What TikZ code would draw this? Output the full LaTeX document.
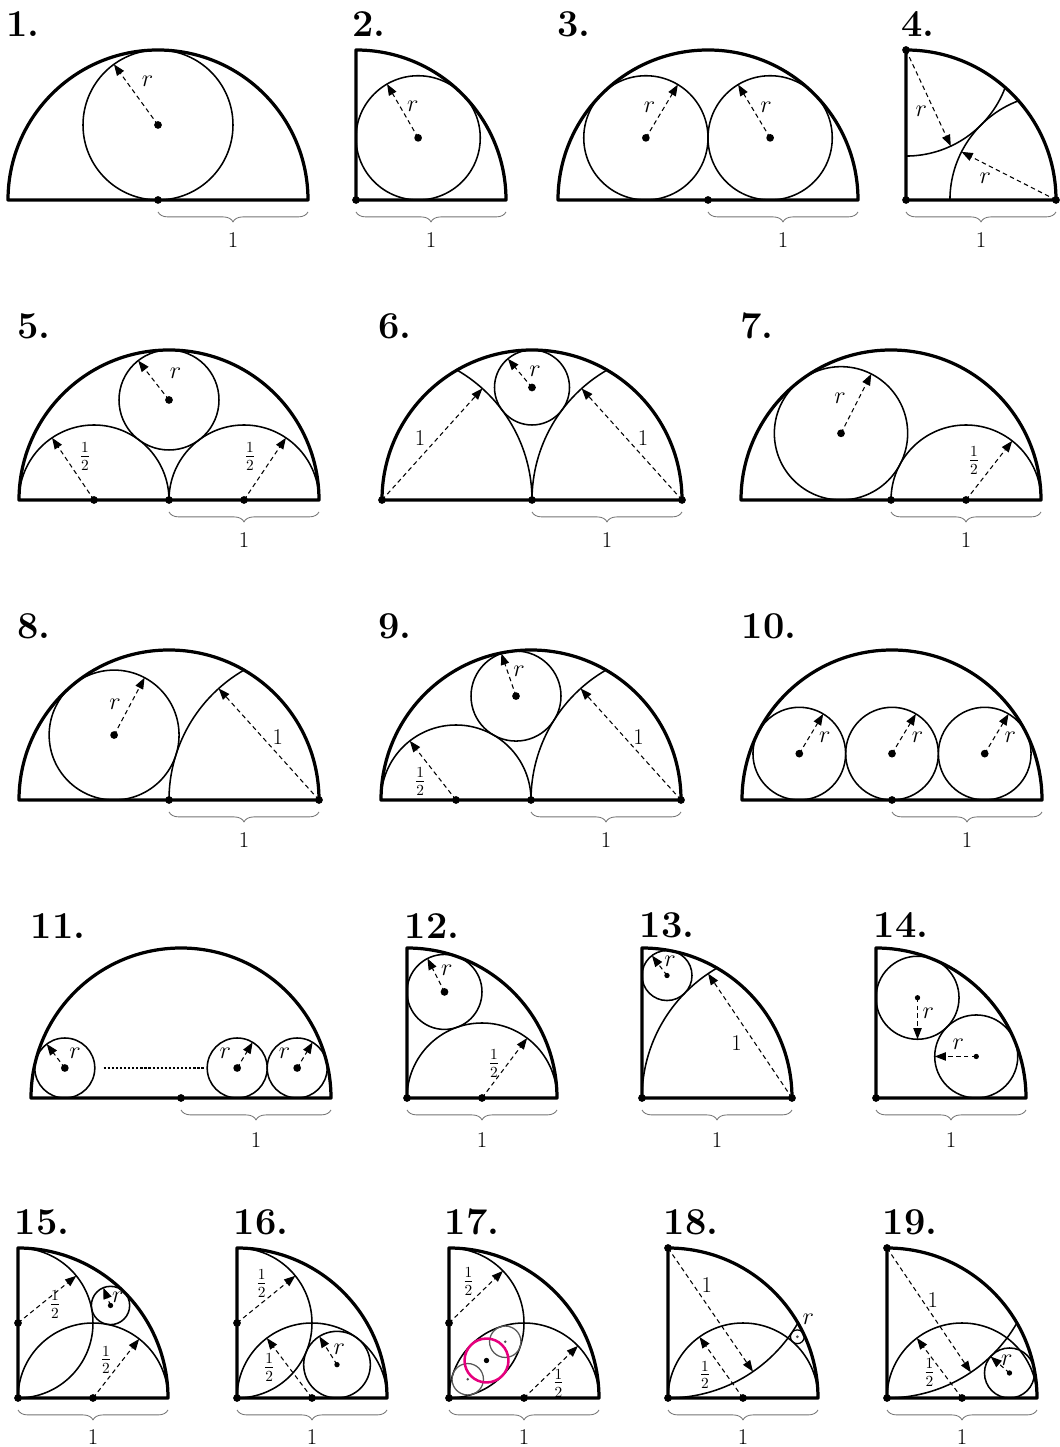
\documentclass[tikz,border=0pt]{standalone}
\usetikzlibrary{arrows.meta,decorations.pathreplacing}
\definecolor{mag}{RGB}{230,0,126}
\tikzset{
 thickline/.style={line width=2.3pt, line join=round},
 thinline/.style={line width=1.1pt},
 darrow/.style={line width=0.75pt, dash pattern=on 3.2pt off 2.4pt, -{Triangle[length=8pt,width=6pt]}},
 dotnode/.style={circle, fill=black, draw=none, inner sep=0pt, minimum size=5.5pt},
 sdot/.style={circle, fill=black, draw=none, inner sep=0pt, minimum size=3.8pt},
 tdot/.style={circle, fill=black!70, draw=none, inner sep=0pt, minimum size=2pt},
 lbl/.style={font=\fontsize{16}{18}\selectfont, inner sep=0pt},
 num/.style={font=\fontsize{27}{30}\selectfont\bfseries, inner sep=0pt},
 brc/.style={decorate, decoration={brace, amplitude=7pt}, draw=black!55, line width=0.6pt},
 panel/.style 2 args={shift={(#1,1447-#2)}, scale=150},
}
\begin{document}
\begin{tikzpicture}[x=0.025cm,y=0.025cm]
\useasboundingbox (0,0) rectangle (1059,1447);
% panel numbers
\node[num] (n1) at (23,1447-24) {1.};
\node[num] (n2) at (369,1447-24) {2.};
\node[num] (n3) at (574,1447-24) {3.};
\node[num] (n4) at (918,1447-24) {4.};
\node[num] (n5) at (34,1447-326) {5.};
\node[num] (n6) at (395,1447-326) {6.};
\node[num] (n7) at (757,1447-326) {7.};
\node[num] (n8) at (34,1447-626) {8.};
\node[num] (n9) at (395,1447-626) {9.};
\node[num] (n10) at (769,1447-626) {10.};
\node[num] (n11) at (58,1447-926) {11.};
\node[num] (n12) at (432,1447-926) {12.};
\node[num] (n13) at (667,1447-925) {13.};
\node[num] (n14) at (901,1447-925) {14.};
\node[num] (n15) at (42,1447-1222) {15.};
\node[num] (n16) at (261,1447-1222) {16.};
\node[num] (n17) at (472,1447-1222) {17.};
\node[num] (n18) at (691,1447-1222) {18.};
\node[num] (n19) at (910,1447-1222) {19.};

% ---------- P1
\begin{scope}[panel={158}{200}]
\draw[thickline] (-1,0) -- (1,0) arc[start angle=0,end angle=180,radius=1] -- cycle;
\draw[thinline] (0,0.5) circle[radius=0.5];
\draw[darrow] (0,0.5) -- ++(126:0.5);
\node[dotnode] (p1a) at (0,0) {};
\node[dotnode] (p1b) at (0,0.5) {};
\node[lbl] (p1r) at (-0.07,0.79) {$r$};
\draw[brc] (1,-0.08) -- (0,-0.08);
\node[lbl] (p1u) at (0.5,-0.27) {1};
\end{scope}

% ---------- P2
\begin{scope}[panel={356}{200}]
\draw[thickline] (0,1) -- (0,0) -- (1,0) arc[start angle=0,end angle=90,radius=1] -- cycle;
\draw[thinline] (0.4142,0.4142) circle[radius=0.4142];
\draw[darrow] (0.4142,0.4142) -- ++(120:0.4142);
\node[dotnode] (p2a) at (0,0) {};
\node[dotnode] (p2b) at (0.4142,0.4142) {};
\node[lbl] (p2r) at (0.379,0.622) {$r$};
\draw[brc] (1,-0.08) -- (0,-0.08);
\node[lbl] (p2u) at (0.5,-0.27) {1};
\end{scope}

% ---------- P3
\begin{scope}[panel={708}{200}]
\draw[thickline] (-1,0) -- (1,0) arc[start angle=0,end angle=180,radius=1] -- cycle;
\draw[thinline] (-0.4142,0.4142) circle[radius=0.4142];
\draw[thinline] (0.4142,0.4142) circle[radius=0.4142];
\draw[darrow] (-0.4142,0.4142) -- ++(59:0.4142);
\draw[darrow] (0.4142,0.4142) -- ++(121:0.4142);
\node[dotnode] (p3a) at (0,0) {};
\node[dotnode] (p3b) at (-0.4142,0.4142) {};
\node[dotnode] (p3c) at (0.4142,0.4142) {};
\node[lbl] (p3r1) at (-0.389,0.618) {$r$};
\node[lbl] (p3r2) at (0.387,0.618) {$r$};
\draw[brc] (1,-0.08) -- (0,-0.08);
\node[lbl] (p3u) at (0.5,-0.27) {1};
\end{scope}

% ---------- P4
\begin{scope}[panel={906}{200}]
\draw[thickline] (0,1) -- (0,0) -- (1,0) arc[start angle=0,end angle=90,radius=1] -- cycle;
\draw[thinline] (0,0.2929) arc[start angle=-90,end angle=-20.7,radius=0.7071];
\draw[thinline] (0.2929,0) arc[start angle=180,end angle=110.7,radius=0.7071];
\draw[darrow] (0,1) -- ++(-65:0.7071);
\draw[darrow] (1,0) -- ++(153:0.7071);
\node[dotnode] (p4a) at (0,0) {};
\node[dotnode] (p4b) at (0,1) {};
\node[dotnode] (p4c) at (1,0) {};
\node[lbl] (p4r1) at (0.102,0.589) {$r$};
\node[lbl] (p4r2) at (0.529,0.144) {$r$};
\draw[brc] (1,-0.08) -- (0,-0.08);
\node[lbl] (p4u) at (0.5,-0.27) {1};
\end{scope}

% ---------- P5
\begin{scope}[panel={169}{500}]
\draw[thickline] (-1,0) -- (1,0) arc[start angle=0,end angle=180,radius=1] -- cycle;
\draw[thinline] (-1,0) arc[start angle=180,end angle=0,radius=0.5];
\draw[thinline] (0,0) arc[start angle=180,end angle=0,radius=0.5];
\draw[thinline] (0,0.6667) circle[radius=0.3333];
\draw[darrow] (-0.5,0) -- ++(124:0.5);
\draw[darrow] (0.5,0) -- ++(56:0.5);
\draw[darrow] (0,0.6667) -- ++(128:0.3333);
\node[dotnode] (p5a) at (-0.5,0) {};
\node[dotnode] (p5b) at (0,0) {};
\node[dotnode] (p5c) at (0.5,0) {};
\node[dotnode] (p5d) at (0,0.6667) {};
\node[lbl] (p5h1) at (-0.56,0.287) {$\frac12$};
\node[lbl] (p5h2) at (0.54,0.287) {$\frac12$};
\node[lbl] (p5r) at (0.043,0.847) {$r$};
\draw[brc] (1,-0.08) -- (0,-0.08);
\node[lbl] (p5u) at (0.5,-0.27) {1};
\end{scope}

% ---------- P6
\begin{scope}[panel={532}{500}]
\draw[thickline] (-1,0) -- (1,0) arc[start angle=0,end angle=180,radius=1] -- cycle;
\draw[thinline] (0,0) arc[start angle=0,end angle=60,radius=1];
\draw[thinline] (0,0) arc[start angle=180,end angle=120,radius=1];
\draw[thinline] (0,0.75) circle[radius=0.25];
\draw[darrow] (-1,0) -- ++(48:1);
\draw[darrow] (1,0) -- ++(132:1);
\draw[darrow] (0,0.75) -- ++(130:0.25);
\node[dotnode] (p6a) at (-1,0) {};
\node[dotnode] (p6b) at (0,0) {};
\node[dotnode] (p6c) at (1,0) {};
\node[dotnode] (p6d) at (0,0.75) {};
\node[lbl] (p6o1) at (-0.747,0.413) {1};
\node[lbl] (p6o2) at (0.74,0.413) {1};
\node[lbl] (p6r) at (0.02,0.86) {$r$};
\draw[brc] (1,-0.08) -- (0,-0.08);
\node[lbl] (p6u) at (0.5,-0.27) {1};
\end{scope}

% ---------- P7
\begin{scope}[panel={891}{500}]
\draw[thickline] (-1,0) -- (1,0) arc[start angle=0,end angle=180,radius=1] -- cycle;
\draw[thinline] (0,0) arc[start angle=180,end angle=0,radius=0.5];
\draw[thinline] (-0.3333,0.4444) circle[radius=0.4444];
\draw[darrow] (-0.3333,0.4444) -- ++(63:0.4444);
\draw[darrow] (0.5,0) -- ++(52:0.5);
\node[dotnode] (p7a) at (0,0) {};
\node[dotnode] (p7b) at (0.5,0) {};
\node[dotnode] (p7c) at (-0.3333,0.4444) {};
\node[lbl] (p7r) at (-0.34,0.678) {$r$};
\node[lbl] (p7h) at (0.553,0.262) {$\frac12$};
\draw[brc] (1,-0.08) -- (0,-0.08);
\node[lbl] (p7u) at (0.5,-0.27) {1};
\end{scope}

% ---------- P8
\begin{scope}[panel={169}{800}]
\draw[thickline] (-1,0) -- (1,0) arc[start angle=0,end angle=180,radius=1] -- cycle;
\draw[thinline] (0,0) arc[start angle=180,end angle=120,radius=1];
\draw[thinline] (-0.366,0.433) circle[radius=0.433];
\draw[darrow] (-0.366,0.433) -- ++(62:0.433);
\draw[darrow] (1,0) -- ++(132:1);
\node[dotnode] (p8a) at (0,0) {};
\node[dotnode] (p8b) at (1,0) {};
\node[dotnode] (p8c) at (-0.366,0.433) {};
\node[lbl] (p8r) at (-0.36,0.64) {$r$};
\node[lbl] (p8o) at (0.725,0.42) {1};
\draw[brc] (1,-0.08) -- (0,-0.08);
\node[lbl] (p8u) at (0.5,-0.27) {1};
\end{scope}

% ---------- P9
\begin{scope}[panel={531}{800}]
\draw[thickline] (-1,0) -- (1,0) arc[start angle=0,end angle=180,radius=1] -- cycle;
\draw[thinline] (-1,0) arc[start angle=180,end angle=0,radius=0.5];
\draw[thinline] (0,0) arc[start angle=180,end angle=120,radius=1];
\draw[thinline] (-0.1,0.6928) circle[radius=0.3];
\draw[darrow] (-0.1,0.6928) -- ++(109:0.3);
\draw[darrow] (-0.5,0) -- ++(128:0.5);
\draw[darrow] (1,0) -- ++(132:1);
\node[dotnode] (p9a) at (-0.5,0) {};
\node[dotnode] (p9b) at (0,0) {};
\node[dotnode] (p9c) at (1,0) {};
\node[dotnode] (p9d) at (-0.1,0.6928) {};
\node[lbl] (p9r) at (-0.08,0.855) {$r$};
\node[lbl] (p9h) at (-0.738,0.122) {$\frac12$};
\node[lbl] (p9o) at (0.717,0.42) {1};
\draw[brc] (1,-0.08) -- (0,-0.08);
\node[lbl] (p9u) at (0.5,-0.27) {1};
\end{scope}

% ---------- P10
\begin{scope}[panel={892}{800}]
\draw[thickline] (-1,0) -- (1,0) arc[start angle=0,end angle=180,radius=1] -- cycle;
\foreach \cx/\nm in {-0.618/a,0/b,0.618/c}{
  \draw[thinline] (\cx,0.309) circle[radius=0.309];
  \draw[darrow] (\cx,0.309) -- ++(59:0.309);
  \node[dotnode] (p10\nm) at (\cx,0.309) {};
  \node[lbl] (p10r\nm) at ({\cx+0.17},0.42) {$r$};
}
\node[dotnode] (p10o) at (0,0) {};
\draw[brc] (1,-0.08) -- (0,-0.08);
\node[lbl] (p10u) at (0.5,-0.27) {1};
\end{scope}

% ---------- P11
\begin{scope}[panel={181}{1098}]
\draw[thickline] (-1,0) -- (1,0) arc[start angle=0,end angle=180,radius=1] -- cycle;
\draw[thinline] (-0.7746,0.2) circle[radius=0.2];
\draw[thinline] (0.3746,0.2) circle[radius=0.2];
\draw[thinline] (0.7746,0.2) circle[radius=0.2];
\draw[line width=0.9pt, dash pattern=on 1.6pt off 1.3pt] (-0.516,0.2) -- (0.15,0.2);
\draw[darrow] (-0.7746,0.2) -- ++(127:0.2);
\draw[darrow] (0.3746,0.2) -- ++(59:0.2);
\draw[darrow] (0.7746,0.2) -- ++(59:0.2);
\node[dotnode] (p11a) at (-0.7746,0.2) {};
\node[dotnode] (p11b) at (0.3746,0.2) {};
\node[dotnode] (p11c) at (0.7746,0.2) {};
\node[dotnode] (p11o) at (0,0) {};
\node[lbl] (p11r1) at (-0.706,0.298) {$r$};
\node[lbl] (p11r2) at (0.295,0.298) {$r$};
\node[lbl] (p11r3) at (0.691,0.298) {$r$};
\draw[brc] (1,-0.08) -- (0,-0.08);
\node[lbl] (p11u) at (0.5,-0.28) {1};
\end{scope}

% ---------- P12
\begin{scope}[panel={407}{1098}]
\draw[thickline] (0,1) -- (0,0) -- (1,0) arc[start angle=0,end angle=90,radius=1] -- cycle;
\draw[thinline] (0,0) arc[start angle=180,end angle=0,radius=0.5];
\draw[thinline] (0.25,0.7071) circle[radius=0.25];
\draw[darrow] (0.25,0.7071) -- ++(117:0.25);
\draw[darrow] (0.5,0) -- ++(53:0.5);
\node[dotnode] (p12a) at (0,0) {};
\node[dotnode] (p12b) at (0.5,0) {};
\node[dotnode] (p12c) at (0.25,0.7071) {};
\node[lbl] (p12r) at (0.265,0.853) {$r$};
\node[lbl] (p12h) at (0.58,0.231) {$\frac12$};
\draw[brc] (1,-0.08) -- (0,-0.08);
\node[lbl] (p12u) at (0.5,-0.28) {1};
\end{scope}

% ---------- P13
\begin{scope}[panel={642}{1098}]
\draw[thickline] (0,1) -- (0,0) -- (1,0) arc[start angle=0,end angle=90,radius=1] -- cycle;
\draw[thinline] (0,0) arc[start angle=180,end angle=120,radius=1];
\draw[thinline] (0.1667,0.8165) circle[radius=0.1667];
\draw[darrow] (0.1667,0.8165) -- ++(127:0.1667);
\draw[darrow] (1,0) -- ++(124:1);
\node[dotnode] (p13a) at (0,0) {};
\node[dotnode] (p13b) at (1,0) {};
\node[sdot] (p13c) at (0.1667,0.8165) {};
\node[lbl] (p13r) at (0.187,0.909) {$r$};
\node[lbl] (p13o) at (0.631,0.364) {1};
\draw[brc] (1,-0.08) -- (0,-0.08);
\node[lbl] (p13u) at (0.5,-0.28) {1};
\end{scope}

% ---------- P14
\begin{scope}[panel={876}{1098}]
\draw[thickline] (0,1) -- (0,0) -- (1,0) arc[start angle=0,end angle=90,radius=1] -- cycle;
\draw[thinline] (0.2768,0.6683) circle[radius=0.2768];
\draw[thinline] (0.6683,0.2768) circle[radius=0.2768];
\draw[darrow] (0.2768,0.6683) -- ++(-90:0.2768);
\draw[darrow] (0.6683,0.2768) -- ++(180:0.2768);
\node[dotnode] (p14a) at (0,0) {};
\node[sdot] (p14b) at (0.2768,0.6683) {};
\node[sdot] (p14c) at (0.6683,0.2768) {};
\node[lbl] (p14r1) at (0.349,0.563) {$r$};
\node[lbl] (p14r2) at (0.549,0.36) {$r$};
\draw[brc] (1,-0.08) -- (0,-0.08);
\node[lbl] (p14u) at (0.5,-0.28) {1};
\end{scope}

% ---------- P15
\begin{scope}[panel={18}{1398}]
\draw[thickline] (0,1) -- (0,0) -- (1,0) arc[start angle=0,end angle=90,radius=1] -- cycle;
\draw[thinline] (0,0) arc[start angle=180,end angle=0,radius=0.5];
\draw[thinline] (0,0) arc[start angle=-90,end angle=90,radius=0.5];
\draw[thinline] (0.6168,0.6168) circle[radius=0.1277];
\draw[darrow] (0,0.5) -- ++(39:0.5);
\draw[darrow] (0.5,0) -- ++(52:0.5);
\draw[darrow] (0.6168,0.6168) -- ++(112:0.1277);
\node[dotnode] (p15a) at (0,0) {};
\node[dotnode] (p15b) at (0,0.5) {};
\node[dotnode] (p15c) at (0.5,0) {};
\node[sdot] (p15d) at (0.6168,0.6168) {};
\node[lbl] (p15h1) at (0.247,0.62) {$\frac12$};
\node[lbl] (p15h2) at (0.587,0.253) {$\frac12$};
\node[lbl] (p15r) at (0.666,0.67) {$r$};
\draw[brc] (1,-0.08) -- (0,-0.08);
\node[lbl] (p15u) at (0.5,-0.26) {1};
\end{scope}

% ---------- P16
\begin{scope}[panel={237}{1398}]
\draw[thickline] (0,1) -- (0,0) -- (1,0) arc[start angle=0,end angle=90,radius=1] -- cycle;
\draw[thinline] (0,0) arc[start angle=180,end angle=0,radius=0.5];
\draw[thinline] (0,0) arc[start angle=-90,end angle=90,radius=0.5];
\draw[thinline] (0.6667,0.2222) circle[radius=0.2222];
\draw[darrow] (0,0.5) -- ++(39:0.5);
\draw[darrow] (0.5,0) -- ++(127:0.5);
\draw[darrow] (0.6667,0.2222) -- ++(122:0.2222);
\node[dotnode] (p16a) at (0,0) {};
\node[dotnode] (p16b) at (0,0.5) {};
\node[dotnode] (p16c) at (0.5,0) {};
\node[sdot] (p16d) at (0.6667,0.2222) {};
\node[lbl] (p16h1) at (0.164,0.764) {$\frac12$};
\node[lbl] (p16h2) at (0.215,0.204) {$\frac12$};
\node[lbl] (p16r) at (0.682,0.325) {$r$};
\draw[brc] (1,-0.08) -- (0,-0.08);
\node[lbl] (p16u) at (0.5,-0.26) {1};
\end{scope}

% ---------- P17
\begin{scope}[panel={449}{1398}]
\draw[thickline] (0,1) -- (0,0) -- (1,0) arc[start angle=0,end angle=90,radius=1] -- cycle;
\draw[thinline] (0,0) arc[start angle=180,end angle=0,radius=0.5];
\draw[thinline] (0,0) arc[start angle=-90,end angle=90,radius=0.5];
\draw[black!65, line width=0.9pt] (0.125,0.125) circle[radius=0.1047];
\draw[black!65, line width=0.9pt] (0.375,0.375) circle[radius=0.1047];
\draw[mag, line width=1.8pt] (0.25,0.25) circle[radius=0.1464];
\draw[darrow] (0,0.5) -- ++(44:0.5);
\draw[darrow] (0.5,0) -- ++(44:0.5);
\node[dotnode] (p17a) at (0,0) {};
\node[dotnode] (p17b) at (0,0.5) {};
\node[dotnode] (p17c) at (0.5,0) {};
\node[sdot] (p17d) at (0.25,0.25) {};
\node[tdot] (p17e) at (0.125,0.125) {};
\node[tdot] (p17f) at (0.375,0.375) {};
\node[lbl] (p17h1) at (0.129,0.776) {$\frac12$};
\node[lbl] (p17h2) at (0.729,0.098) {$\frac12$};
\draw[brc] (1,-0.08) -- (0,-0.08);
\node[lbl] (p17u) at (0.5,-0.26) {1};
\end{scope}

% ---------- P18
\begin{scope}[panel={668}{1398}]
\draw[thickline] (0,1) -- (0,0) -- (1,0) arc[start angle=0,end angle=90,radius=1] -- cycle;
\draw[thinline] (0,0) arc[start angle=180,end angle=0,radius=0.5];
\draw[thinline] (0,0) arc[start angle=-90,end angle=-30,radius=1];
\draw[line width=0.9pt] (0.8624,0.4082) circle[radius=0.0459];
\draw[darrow] (0,1) -- ++(-55.5:1);
\draw[darrow] (0.5,0) -- ++(125.5:0.5);
\node[dotnode] (p18a) at (0,0) {};
\node[dotnode] (p18b) at (0,1) {};
\node[dotnode] (p18c) at (0.5,0) {};
\node[tdot] (p18d) at (0.8624,0.4082) {};
\node[lbl] (p18o) at (0.258,0.753) {1};
\node[lbl] (p18h) at (0.247,0.153) {$\frac12$};
\node[lbl] (p18r) at (0.936,0.528) {$r$};
\draw[brc] (1,-0.08) -- (0,-0.08);
\node[lbl] (p18u) at (0.5,-0.26) {1};
\end{scope}

% ---------- P19
\begin{scope}[panel={887}{1398}]
\draw[thickline] (0,1) -- (0,0) -- (1,0) arc[start angle=0,end angle=90,radius=1] -- cycle;
\draw[thinline] (0,0) arc[start angle=180,end angle=0,radius=0.5];
\draw[thinline] (0,0) arc[start angle=-90,end angle=-30,radius=1];
\draw[thinline] (0.8165,0.1667) circle[radius=0.1667];
\draw[darrow] (0,1) -- ++(-56:1);
\draw[darrow] (0.5,0) -- ++(127:0.5);
\draw[darrow] (0.8165,0.1667) -- ++(139:0.1667);
\node[dotnode] (p19a) at (0,0) {};
\node[dotnode] (p19b) at (0,1) {};
\node[dotnode] (p19c) at (0.5,0) {};
\node[sdot] (p19d) at (0.8165,0.1667) {};
\node[lbl] (p19o) at (0.305,0.653) {1};
\node[lbl] (p19h) at (0.283,0.169) {$\frac12$};
\node[lbl] (p19r) at (0.798,0.249) {$r$};
\draw[brc] (1,-0.08) -- (0,-0.08);
\node[lbl] (p19u) at (0.5,-0.26) {1};
\end{scope}
\end{tikzpicture}
\end{document}
